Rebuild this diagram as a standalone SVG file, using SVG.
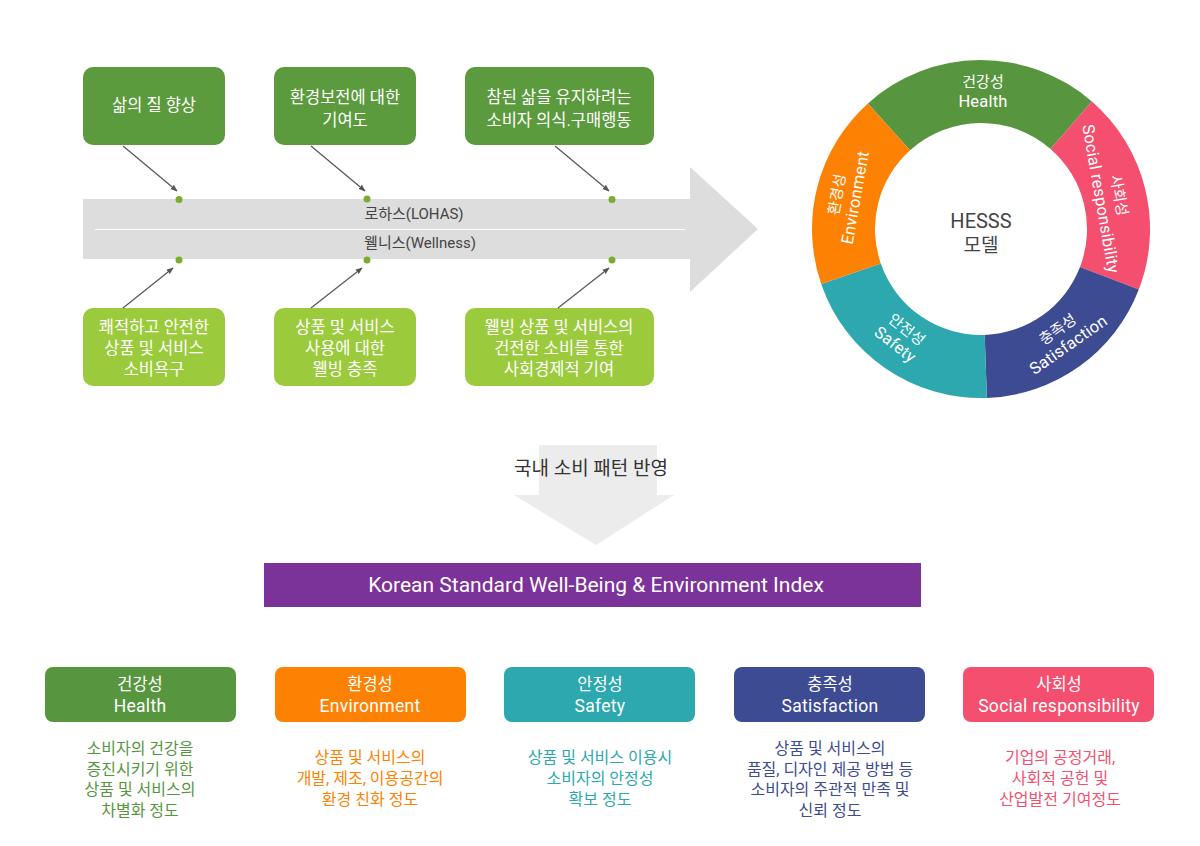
<svg xmlns="http://www.w3.org/2000/svg" width="1200" height="846" viewBox="0 0 1200 846">
<defs>
<marker id="ah" viewBox="0 0 10 10" refX="9" refY="5" markerWidth="7" markerHeight="7" orient="auto" markerUnits="userSpaceOnUse">
<path d="M0,1 L10,5 L0,9 Z" fill="#555"/>
</marker>
<style>
text{font-family:Roboto,"Noto Sans CJK KR","Noto Sans",sans-serif;text-anchor:middle}
.w{fill:#fff;font-size:16.5px}
.t{fill:#fff;font-size:16.5px}
.tl{fill:#fff;font-size:17.5px;letter-spacing:0.3px}
.wl{fill:#fff;font-size:15px}
.wL{fill:#fff;font-size:16.5px;letter-spacing:0.2px}
.dark{fill:#5c9a3e}
.light{fill:#9bcb3d}
.dot{fill:#7aad2f}
.conn{stroke:#555;stroke-width:1.2;fill:none;marker-end:url(#ah)}
.desc{font-size:16px}
</style>
</defs>
<rect width="1200" height="846" fill="#fff"/>

<g id="lohas-arrow">
<polygon points="83,199 690,199 690,167 758,229 690,292 690,259 83,259" fill="#dddddd"/>
<line x1="95" y1="229.5" x2="685" y2="229.5" stroke="#fff" stroke-width="1"/>
<text x="414" y="219" style="font-size:15px;fill:#444">로하스(LOHAS)</text>
<text x="420" y="248" style="font-size:15px;fill:#444">웰니스(Wellness)</text>
<circle class="dot" cx="179" cy="199.5" r="3.5"/>
<circle class="dot" cx="367" cy="199" r="3.5"/>
<circle class="dot" cx="612" cy="199.5" r="3.5"/>
<circle class="dot" cx="179" cy="260" r="3.5"/>
<circle class="dot" cx="367" cy="260" r="3.5"/>
<circle class="dot" cx="612" cy="260" r="3.5"/>
</g>

<g id="top1"><rect class="dark" x="83" y="67" width="142" height="78" rx="10"/><text class="w" x="154" y="111">삶의 질 향상</text></g>
<g id="top2"><rect class="dark" x="274" y="67" width="142" height="78" rx="10"/><text class="w" x="345" y="103">환경보전에 대한</text><text class="w" x="345" y="126">기여도</text></g>
<g id="top3"><rect class="dark" x="465" y="67" width="189" height="78" rx="10"/><text class="w" x="559" y="103">참된 삶을 유지하려는</text><text class="w" x="559" y="126">소비자 의식.구매행동</text></g>

<g id="bot1"><rect class="light" x="83" y="308" width="142" height="78" rx="10"/><text class="w" x="154" y="333">쾌적하고 안전한</text><text class="w" x="154" y="354">상품 및 서비스</text><text class="w" x="154" y="375">소비욕구</text></g>
<g id="bot2"><rect class="light" x="274" y="308" width="142" height="78" rx="10"/><text class="w" x="345" y="333">상품 및 서비스</text><text class="w" x="345" y="354">사용에 대한</text><text class="w" x="345" y="375">웰빙 충족</text></g>
<g id="bot3"><rect class="light" x="465" y="308" width="189" height="78" rx="10"/><text class="w" x="559" y="333">웰빙 상품 및 서비스의</text><text class="w" x="559" y="354">건전한 소비를 통한</text><text class="w" x="559" y="375">사회경제적 기여</text></g>

<g id="connectors">
<line class="conn" x1="123" y1="146" x2="177" y2="191"/>
<line class="conn" x1="311" y1="146" x2="365" y2="191"/>
<line class="conn" x1="555" y1="146" x2="609" y2="191"/>
<line class="conn" x1="123" y1="308" x2="173" y2="268"/>
<line class="conn" x1="311" y1="308" x2="362" y2="268"/>
<line class="conn" x1="558" y1="308" x2="609" y2="268"/>
</g>

<g id="hesss-donut">
<path d="M867.9,103.4 A169,169 0 0 1 1091.9,101.5 L1050.5,149.0 A106,106 0 0 0 910.1,150.2 Z" fill="#57963f"/>
<path d="M1091.9,101.5 A169,169 0 0 1 1138.8,289.6 L1080.0,267.0 A106,106 0 0 0 1050.5,149.0 Z" fill="#f44f6f"/>
<path d="M1138.8,289.6 A169,169 0 0 1 986.9,397.9 L984.7,334.9 A106,106 0 0 0 1080.0,267.0 Z" fill="#3d4b92"/>
<path d="M986.9,397.9 A169,169 0 0 1 821.2,284.0 L880.8,263.5 A106,106 0 0 0 984.7,334.9 Z" fill="#2ca8ae"/>
<path d="M821.2,284.0 A169,169 0 0 1 867.9,103.4 L910.1,150.2 A106,106 0 0 0 880.8,263.5 Z" fill="#fd8204"/>
<text x="983" y="87" class="wl">건강성</text>
<text x="983" y="107" class="wL">Health</text>
<g transform="translate(846,196) rotate(-80)"><text class="wl" x="0" y="-4">환경성</text><text class="wL" x="0" y="15">Environment</text></g>
<g transform="translate(1110,197) rotate(80)"><text class="wl" x="0" y="-4">사회성</text><text class="wL" x="0" y="15">Social responsibility</text></g>
<g transform="translate(901,337) rotate(38)"><text class="wl" x="0" y="-4">안전성</text><text class="wL" x="0" y="15">Safety</text></g>
<g transform="translate(1063,337) rotate(-35)"><text class="wl" x="0" y="-4">충족성</text><text class="wL" x="0" y="15">Satisfaction</text></g>
<text x="981" y="228" style="font-size:20px;fill:#444">HESSS</text>
<text x="981" y="252" style="font-size:19px;fill:#444">모델</text>
</g>

<g id="down-arrow">
<polygon points="539,445 657,445 657,495 674,495 596,545 514,495 539,495" fill="#ececec"/>
<text x="591" y="475" style="font-size:19px;fill:#333">국내 소비 패턴 반영</text>
</g>

<g id="index-bar">
<rect x="264" y="563" width="657" height="44" fill="#7b3299"/>
<text x="596" y="592" style="font-size:21px;fill:#fff">Korean Standard Well-Being &amp; Environment Index</text>
</g>

<g id="health">
<rect x="45" y="667" width="191" height="55" rx="8" fill="#57963f"/>
<text class="t" x="140" y="690">건강성</text><text class="tl" x="140" y="712">Health</text>
<g class="desc" style="fill:#57963f"><text x="140" y="754">소비자의 건강을</text><text x="140" y="775">증진시키기 위한</text><text x="140" y="795">상품 및 서비스의</text><text x="140" y="816">차별화 정도</text></g>
</g>
<g id="environment">
<rect x="275" y="667" width="191" height="55" rx="8" fill="#fd8204"/>
<text class="t" x="370" y="690">환경성</text><text class="tl" x="370" y="712">Environment</text>
<g class="desc" style="fill:#fd8204"><text x="370" y="763">상품 및 서비스의</text><text x="370" y="784">개발, 제조, 이용공간의</text><text x="370" y="805">환경 친화 정도</text></g>
</g>
<g id="safety">
<rect x="504" y="667" width="191" height="55" rx="8" fill="#2ca8ae"/>
<text class="t" x="600" y="690">안정성</text><text class="tl" x="600" y="712">Safety</text>
<g class="desc" style="fill:#2ca8ae"><text x="600" y="763">상품 및 서비스 이용시</text><text x="600" y="784">소비자의 안정성</text><text x="600" y="805">확보 정도</text></g>
</g>
<g id="satisfaction">
<rect x="734" y="667" width="191" height="55" rx="8" fill="#3d4b92"/>
<text class="t" x="830" y="690">충족성</text><text class="tl" x="830" y="712">Satisfaction</text>
<g class="desc" style="fill:#3d4b92"><text x="830" y="754">상품 및 서비스의</text><text x="830" y="775">품질, 디자인 제공 방법 등</text><text x="830" y="795">소비자의 주관적 만족 및</text><text x="830" y="816">신뢰 정도</text></g>
</g>
<g id="social">
<rect x="963" y="667" width="191" height="55" rx="8" fill="#f44f6f"/>
<text class="t" x="1059" y="690">사회성</text><text class="tl" x="1059" y="712">Social responsibility</text>
<g class="desc" style="fill:#f44f6f"><text x="1060" y="763">기업의 공정거래,</text><text x="1060" y="784">사회적 공헌 및</text><text x="1060" y="805">산업발전 기여정도</text></g>
</g>
</svg>
